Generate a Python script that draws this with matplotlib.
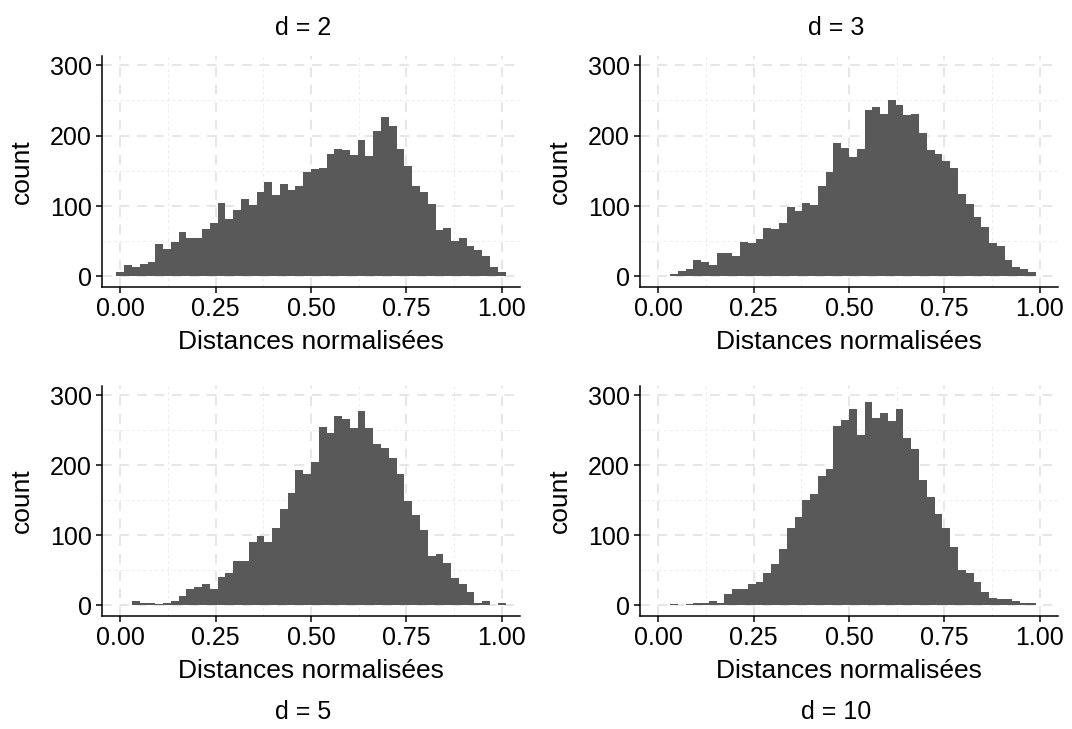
"""Histograms of normalised pairwise distances for d = 2, 3, 5 and 10."""
import matplotlib
matplotlib.use("Agg")
import matplotlib.pyplot as plt
import numpy as np
from matplotlib.ticker import AutoMinorLocator

plt.rcParams["font.family"] = ["Liberation Sans", "DejaVu Sans"]

# 50 bins centred on k/49 (ggplot bins = 50)
N_BINS = 50
BIN_WIDTH = 1 / (N_BINS - 1)
bin_centers = np.arange(N_BINS) * BIN_WIDTH

counts_d2 = [6, 16, 13, 17, 21, 46, 39, 49, 63, 54,
             54, 67, 76, 104, 81, 94, 110, 101, 120, 134,
             116, 131, 123, 129, 149, 153, 154, 174, 181, 179,
             173, 194, 171, 207, 226, 213, 181, 157, 129, 120,
             103, 66, 69, 50, 54, 43, 37, 29, 14, 6]
counts_d3 = [1, 1, 4, 8, 10, 23, 21, 16, 33, 33,
             29, 49, 47, 53, 69, 67, 76, 99, 93, 104,
             101, 129, 149, 190, 183, 169, 181, 237, 240, 230,
             250, 243, 229, 230, 204, 179, 174, 164, 154, 117,
             103, 84, 70, 47, 43, 23, 14, 11, 7, 1]
counts_d5 = [1, 0, 6, 3, 4, 2, 3, 6, 13, 24,
             26, 31, 23, 40, 46, 64, 64, 90, 99, 91,
             110, 137, 160, 193, 187, 204, 254, 246, 270, 266,
             253, 277, 253, 230, 224, 210, 187, 149, 129, 107,
             71, 74, 61, 39, 31, 19, 3, 7, 1, 3]
counts_d10 = [1, 0, 2, 1, 2, 3, 4, 6, 4, 16,
              24, 23, 31, 34, 46, 59, 81, 111, 126, 150,
              159, 184, 194, 256, 264, 280, 243, 290, 267, 274,
              263, 280, 239, 223, 179, 154, 130, 111, 84, 51,
              46, 33, 19, 11, 9, 9, 7, 3, 4, 1]

titles = ["d = 2", "d = 3", "d = 5", "d = 10"]
x_ticks = [0.0, 0.25, 0.5, 0.75, 1.0]
x_tick_labels = ["0.00", "0.25", "0.50", "0.75", "1.00"]
y_ticks = [0, 100, 200, 300]

W, H = 1072, 729
FS_TICK = 18
FS_LABEL = 19
FS_TITLE = 18

fig = plt.figure(figsize=(W / 100, H / 100), dpi=100)

# panel boxes in pixels: left, top, right, bottom
boxes = [(102, 56, 520, 287), (640, 56, 1058, 287),
         (102, 386, 520, 616), (640, 386, 1058, 616)]
# top row titled above, bottom row titled below
title_pos = [(303, 28), (836, 28), (303, 712), (836, 712)]

for counts, (l, t, r, b), title, (tx, ty) in zip(
        [counts_d2, counts_d3, counts_d5, counts_d10], boxes, titles, title_pos):
    ax = fig.add_axes([l / W, 1 - b / H, (r - l) / W, (b - t) / H])
    ax.bar(bin_centers, counts, width=BIN_WIDTH, color="#595959", linewidth=0, zorder=2)

    ax.set_xlim(-0.048, 1.048)
    ax.set_ylim(-15, 313)
    ax.set_xticks(x_ticks)
    ax.set_xticklabels(x_tick_labels)
    ax.set_yticks(y_ticks)
    ax.xaxis.set_minor_locator(AutoMinorLocator(2))
    ax.yaxis.set_minor_locator(AutoMinorLocator(2))

    ax.grid(which="major", color="#E6E6E6", linestyle=(0, (5, 4)), linewidth=1.4, zorder=0)
    ax.grid(which="minor", color="#ECECEC", linestyle=(0, (3, 3)), linewidth=0.7, zorder=0)
    ax.set_axisbelow(True)

    for side in ["top", "right"]:
        ax.spines[side].set_visible(False)
    for side in ["left", "bottom"]:
        ax.spines[side].set_linewidth(1.1)
        ax.spines[side].set_color("black")

    ax.tick_params(which="major", length=4.5, width=1.1, color="black",
                   labelsize=FS_TICK, labelcolor="black", pad=3)
    ax.tick_params(which="minor", length=0)

    ax.set_xlabel("Distances normalisées", fontsize=FS_LABEL, va="center")
    ax.xaxis.set_label_coords(0.5, -55 / (b - t))
    ax.set_ylabel("count", fontsize=FS_LABEL, va="center")
    ax.yaxis.set_label_coords(-80 / (r - l), 0.5)

    fig.text(tx / W, 1 - ty / H, title, fontsize=FS_TITLE, ha="center", va="center")

fig.savefig("out.png", dpi=100)
